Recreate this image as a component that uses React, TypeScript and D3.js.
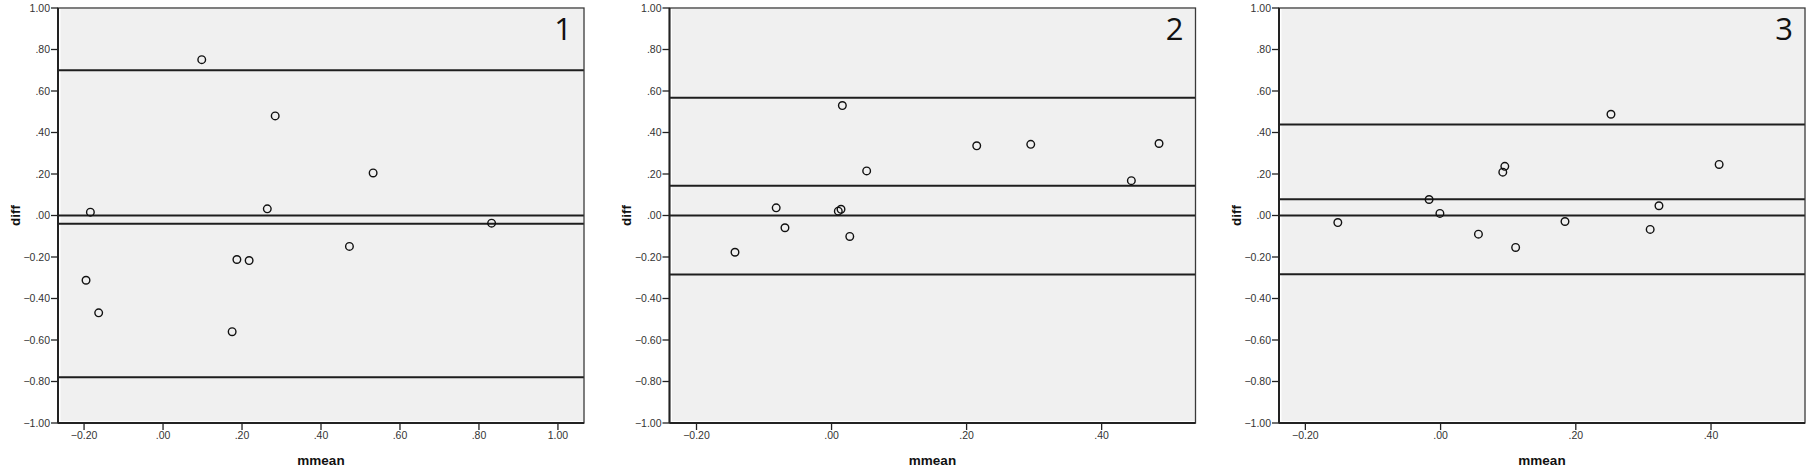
import React from "react";
import * as d3 from "d3";

// ---------- data ----------
const panelNames = ["1", "2", "3"];

const mean1 = [0.098, 0.284, 0.532, -0.184, 0.264, 0.832, 0.472, 0.187, 0.218, -0.195, -0.163, 0.175];
const diff1 = [0.751, 0.48, 0.205, 0.016, 0.032, -0.037, -0.149, -0.212, -0.217, -0.312, -0.469, -0.56];
const lines1 = [0.70, 0.0, -0.04, -0.78];
const xTicks1 = [-0.2, 0, 0.2, 0.4, 0.6, 0.8, 1.0];
const xDomain1 = [-0.266, 1.066];

const mean2 = [0.016, 0.215, 0.295, 0.485, 0.052, 0.444, -0.082, 0.010, 0.014, -0.069, 0.027, -0.143];
const diff2 = [0.53, 0.336, 0.343, 0.347, 0.215, 0.168, 0.037, 0.021, 0.030, -0.059, -0.101, -0.177];
const lines2 = [0.567, 0.143, 0.0, -0.284];
const xTicks2 = [-0.2, 0, 0.2, 0.4];
const xDomain2 = [-0.24, 0.539];

const mean3 = [0.252, 0.412, 0.095, 0.092, -0.017, -0.001, 0.323, -0.152, 0.184, 0.056, 0.310, 0.111];
const diff3 = [0.488, 0.246, 0.237, 0.209, 0.077, 0.010, 0.047, -0.034, -0.029, -0.090, -0.067, -0.154];
const lines3 = [0.438, 0.078, 0.0, -0.283];
const xTicks3 = [-0.2, 0, 0.2, 0.4];
const xDomain3 = [-0.239, 0.539];

const yTicks = [-1, -0.8, -0.6, -0.4, -0.2, 0, 0.2, 0.4, 0.6, 0.8, 1.0];
const yDomain = [-1, 1];
const xTitle = "mmean";
const yTitle = "diff";

// ---------- layout ----------
const W = 1814;
const H = 475;
const panelLefts = [58, 669.5, 1279];
const panelWidth = 526;
const top = 8;
const bottom = 423;

const fmt = (v: number) => {
  const s = d3.format(".2f")(Math.abs(v) < 1e-9 ? 0 : v);
  return s.replace(/^(-?)0\./, "$1.");
};

type PanelProps = {
  left: number;
  name: string;
  means: number[];
  diffs: number[];
  lines: number[];
  xTicks: number[];
  xDomain: number[];
};

function Panel({ left, name, means, diffs, lines, xTicks, xDomain }: PanelProps) {
  const right = left + panelWidth;
  const x = d3.scaleLinear().domain(xDomain).range([left, right]);
  const y = d3.scaleLinear().domain(yDomain).range([bottom, top]);
  const tickFont = { fontFamily: "Liberation Sans, Arial, sans-serif", fontSize: 10.5, fill: "#333" };
  return (
    <g>
      <rect x={left} y={top} width={panelWidth} height={bottom - top} fill="#fff" />
      <rect x={left + 2.5} y={top + 1} width={panelWidth - 3} height={bottom - top - 3} fill="#f0f0f0" />
      {lines.map((v, i) => (
        <line key={"l" + i} x1={left} x2={right} y1={y(v)} y2={y(v)} stroke="#1e1e1e" strokeWidth={2} />
      ))}
      {means.map((m, i) => (
        <circle key={"c" + i} cx={x(m)} cy={y(diffs[i])} r={3.8} fill="none" stroke="#111" strokeWidth={1.4} />
      ))}
      {/* frame */}
      <rect x={left} y={top} width={panelWidth} height={bottom - top} fill="none" stroke="#3a3a3a" strokeWidth={1.3} />
      <line x1={left} x2={left} y1={top} y2={bottom} stroke="#222" strokeWidth={2} />
      <line x1={left} x2={right} y1={bottom} y2={bottom} stroke="#222" strokeWidth={2} />
      {/* y ticks */}
      {yTicks.map((t, i) => (
        <g key={"yt" + i}>
          <line x1={left - 7} x2={left} y1={y(t)} y2={y(t)} stroke="#222" strokeWidth={1.3} />
          <text x={left - 8} y={y(t)} dy="0.35em" textAnchor="end" {...tickFont}>
            {fmt(t)}
          </text>
        </g>
      ))}
      {/* x ticks */}
      {xTicks.map((t, i) => (
        <g key={"xt" + i}>
          <line x1={x(t)} x2={x(t)} y1={bottom} y2={bottom + 7} stroke="#222" strokeWidth={1.3} />
          <text x={x(t)} y={435} dy="0.35em" textAnchor="middle" {...tickFont}>
            {fmt(t)}
          </text>
        </g>
      ))}
      <text
        x={(left + right) / 2}
        y={460}
        dy="0.35em"
        textAnchor="middle"
        fontFamily="Liberation Sans, Arial, sans-serif"
        fontWeight="bold"
        fontSize={13.5}
        fill="#111"
      >
        {xTitle}
      </text>
      <text
        transform={`translate(${left - 43},${(top + bottom) / 2}) rotate(-90)`}
        dy="0.35em"
        textAnchor="middle"
        fontFamily="Liberation Sans, Arial, sans-serif"
        fontWeight="bold"
        fontSize={13.5}
        fill="#111"
      >
        {yTitle}
      </text>
      <text
        x={right - 12}
        y={29}
        dy="0.35em"
        textAnchor="end"
        fontFamily="Open Sans, Noto Sans, sans-serif"
        fontSize={31}
        fill="#111"
      >
        {name}
      </text>
    </g>
  );
}

export default function App() {
  const panels = [
    { means: mean1, diffs: diff1, lines: lines1, xTicks: xTicks1, xDomain: xDomain1 },
    { means: mean2, diffs: diff2, lines: lines2, xTicks: xTicks2, xDomain: xDomain2 },
    { means: mean3, diffs: diff3, lines: lines3, xTicks: xTicks3, xDomain: xDomain3 },
  ];
  return (
    <svg
      width={W}
      height={H}
      viewBox={`0 0 ${W} ${H}`}
      style={{ position: "absolute", left: 0, top: 0, background: "#fff" }}
    >
      <rect x={0} y={0} width={W} height={H} fill="#fff" />
      {panels.map((p, i) => (
        <Panel key={i} left={panelLefts[i]} name={panelNames[i]} {...p} />
      ))}
    </svg>
  );
}
